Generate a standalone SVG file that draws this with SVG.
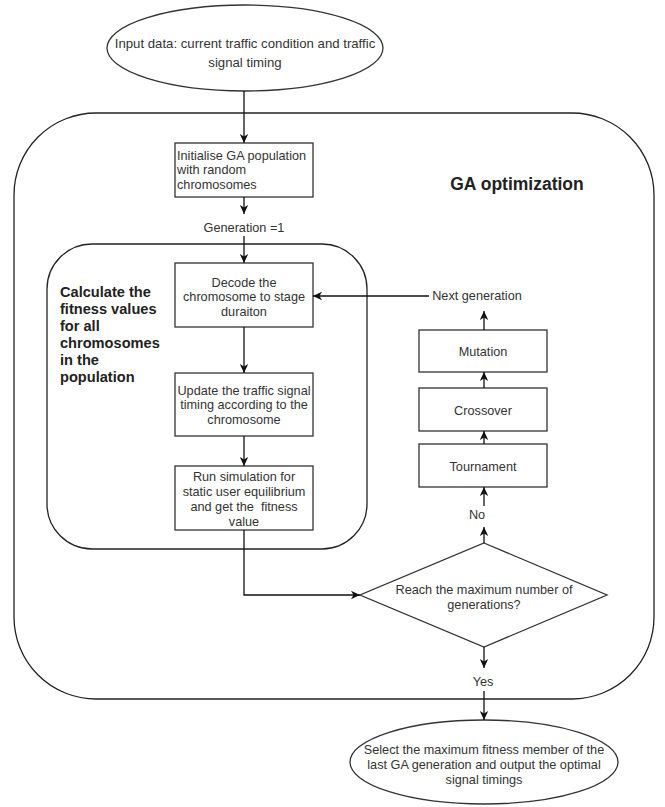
<svg xmlns="http://www.w3.org/2000/svg" width="665" height="807" viewBox="0 0 665 807">
<style>
  .shape { fill: #ffffff; stroke: #333333; stroke-width: 1.3; }
  .group { fill: none; stroke: #222222; stroke-width: 1.3; }
  .txt { font-family: "Liberation Sans", Arial, sans-serif; font-size: 12.7px; fill: #333333; text-anchor: middle; }
  .left { text-anchor: start; }
  .bold { font-family: "Liberation Sans", Arial, sans-serif; font-weight: bold; fill: #222222; }
  .conn { fill: none; stroke: #111111; stroke-width: 1.3; }
</style>
<defs>
  <marker id="arrow" markerUnits="userSpaceOnUse" markerWidth="10" markerHeight="10" refX="9" refY="5" orient="auto">
    <path d="M0,0.8 L9,5 L0,9.2 L2.5,5 Z" fill="#111111"/>
  </marker>
</defs>
<rect width="665" height="807" fill="#ffffff"/>

<g id="ga-optimization">
  <rect class="group" x="14" y="113" width="640" height="586" rx="82" ry="82"/>
  <text class="bold" x="517" y="190" font-size="17.5" text-anchor="middle">GA optimization</text>
</g>

<g id="fitness-group">
  <rect class="group" x="47" y="244" width="320" height="305" rx="45" ry="45"/>
  <text class="bold" font-size="14.6">
    <tspan x="60" y="297">Calculate the</tspan>
    <tspan x="60" y="314">fitness values</tspan>
    <tspan x="60" y="331">for all</tspan>
    <tspan x="60" y="348">chromosomes</tspan>
    <tspan x="60" y="365">in the</tspan>
    <tspan x="60" y="382">population</tspan>
  </text>
</g>

<g id="input">
  <ellipse class="shape" cx="245" cy="48" rx="138" ry="43"/>
  <text class="txt" style="font-size:13.2px"><tspan x="245" y="47.5">Input data: current traffic condition and traffic</tspan><tspan x="245" y="66.5">signal timing</tspan></text>
</g>

<g id="initialise">
  <rect class="shape" x="175" y="143" width="138" height="54"/>
  <text class="txt left"><tspan x="177" y="159.5">Initialise GA population</tspan><tspan x="177" y="173.5">with random</tspan><tspan x="177" y="188.5">chromosomes</tspan></text>
</g>

<g id="generation-label">
  <text class="txt" x="244" y="231.5">Generation =1</text>
</g>

<g id="decode">
  <rect class="shape" x="175" y="263" width="138" height="64"/>
  <text class="txt"><tspan x="244" y="286.5">Decode the</tspan><tspan x="244" y="300.5">chromosome to stage</tspan><tspan x="244" y="315.5">duraiton</tspan></text>
</g>

<g id="update">
  <rect class="shape" x="175" y="373" width="138" height="63"/>
  <text class="txt"><tspan x="244" y="394.5">Update the traffic signal</tspan><tspan x="244" y="408.5">timing according to the</tspan><tspan x="244" y="423.5">chromosome</tspan></text>
</g>

<g id="run">
  <rect class="shape" x="175" y="466" width="138" height="64"/>
  <text class="txt"><tspan x="244" y="480.5">Run simulation for</tspan><tspan x="244" y="495.5">static user equilibrium</tspan><tspan x="244" y="510.5">and get the &#160;fitness</tspan><tspan x="244" y="525.5">value</tspan></text>
</g>

<g id="decision">
  <polygon class="shape" points="484,543 607,595 484,647 360,595"/>
  <text class="txt"><tspan x="484" y="593.5">Reach the maximum number of</tspan><tspan x="484" y="608.5">generations?</tspan></text>
</g>

<g id="no-label">
  <text class="txt" x="477" y="518.5">No</text>
</g>

<g id="tournament">
  <rect class="shape" x="419" y="444" width="128" height="43"/>
  <text class="txt" x="483" y="470.5">Tournament</text>
</g>

<g id="crossover">
  <rect class="shape" x="419" y="388" width="128" height="43"/>
  <text class="txt" x="483" y="414.5">Crossover</text>
</g>

<g id="mutation">
  <rect class="shape" x="419" y="330" width="128" height="42"/>
  <text class="txt" x="483" y="355.5">Mutation</text>
</g>

<g id="next-generation-label">
  <text class="txt" x="477" y="299.5">Next generation</text>
</g>

<g id="yes-label">
  <text class="txt" x="483" y="685.5">Yes</text>
</g>

<g id="output">
  <ellipse class="shape" cx="484" cy="762" rx="134" ry="42"/>
  <text class="txt"><tspan x="484" y="753.5">Select the maximum fitness member of the</tspan><tspan x="484" y="768.5">last GA generation and output the optimal</tspan><tspan x="484" y="783.5">signal timings</tspan></text>
</g>

<g id="connectors">
  <path class="conn" d="M244,91 L244,143" marker-end="url(#arrow)"/>
  <path class="conn" d="M244,197 L244,214" marker-end="url(#arrow)"/>
  <path class="conn" d="M244,236 L244,263" marker-end="url(#arrow)"/>
  <path class="conn" d="M244,327 L244,373" marker-end="url(#arrow)"/>
  <path class="conn" d="M244,436 L244,466" marker-end="url(#arrow)"/>
  <path class="conn" d="M244,530 L244,595 L360,595" marker-end="url(#arrow)"/>
  <path class="conn" d="M484,543 L484,527" marker-end="url(#arrow)"/>
  <path class="conn" d="M484,506 L484,487" marker-end="url(#arrow)"/>
  <path class="conn" d="M484,444 L484,431" marker-end="url(#arrow)"/>
  <path class="conn" d="M484,388 L484,372" marker-end="url(#arrow)"/>
  <path class="conn" d="M484,330 L484,311" marker-end="url(#arrow)"/>
  <path class="conn" d="M429,296 L313,296" marker-end="url(#arrow)"/>
  <path class="conn" d="M484,647 L484,668" marker-end="url(#arrow)"/>
  <path class="conn" d="M484,691 L484,720" marker-end="url(#arrow)"/>
</g>
</svg>
